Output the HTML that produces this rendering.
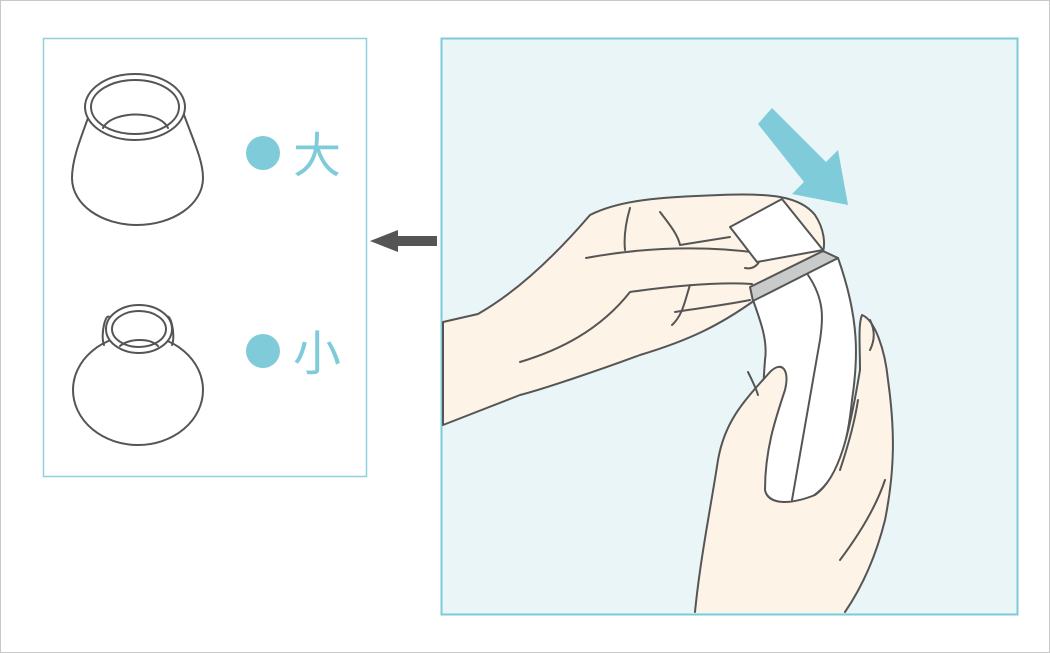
<!DOCTYPE html>
<html><head><meta charset="utf-8"><style>
html,body{margin:0;padding:0;background:#fff}
svg{display:block}
</style></head><body>
<svg width="1050" height="653" viewBox="0 0 1050 653" xmlns="http://www.w3.org/2000/svg">
<rect x="0.5" y="0.5" width="1049" height="652" fill="#fff" stroke="#c8c8c8"/>
<rect x="43.5" y="38.5" width="323" height="438" fill="#fff" stroke="#8fd0dc" stroke-width="1.5"/>
<rect x="441.5" y="38.5" width="576" height="576" fill="#e9f5f7" stroke="#7ccbd8" stroke-width="2"/>
<polygon points="437,236 398,236 398,230 370,241 398,252 398,246 437,246" fill="#555"/>
<polygon points="772,108 826,162 838,150 848,205 792,194 804,182 758,124" fill="#7fcbd9"/>
<g stroke="#555" stroke-width="2" stroke-linejoin="round" stroke-linecap="round">
<path d="M443,322 L478,314 C520,290 560,250 590,215 C620,200 660,197 720,195 C770,193 800,196 815,215 C825,230 825,245 823,252 L755,300 C720,325 690,340 640,355 C600,370 540,390 520,395 L443,425 Z" fill="#fdf3e7"/>
<path d="M630,208 C625,225 624,240 625,250 M660,212 C670,225 678,235 680,245 M680,245 L730,237 M586,258 C640,248 700,245 760,253 C762,262 755,270 745,268 M520,362 C560,350 600,330 630,292 C680,285 720,282 752,284 M690,285 C685,300 683,315 672,325 M675,312 C700,308 725,305 750,300" fill="none"/>
<polygon points="730,227 782,199 823,250 757,262" fill="#fff"/>
<path d="M753,300 C760,320 768,340 765,360 C762,400 760,450 764,490 C770,505 790,505 810,498 C840,480 848,440 852,400 C858,360 860,320 838,258 Z" fill="#fff"/>
<polygon points="750,287 823,251 838,258 753,301" fill="#c8cbca"/>
<path d="M808,275 C825,300 823,320 820,340 L792,500" fill="none"/>
<path d="M695,612 C700,560 712,500 718,460 C725,420 745,400 770,372 C782,360 790,370 785,390 C775,420 765,450 765,490 C768,505 790,505 815,495 C840,478 850,430 860,370 C860,345 858,325 862,315 C875,320 885,350 888,380 C895,430 895,470 885,520 C875,560 860,590 845,612" fill="#fdf3e7"/>
<path d="M748,372 C752,380 756,388 758,395 M870,320 C875,330 875,340 870,350 M840,470 C850,440 855,420 858,400 M840,560 C855,540 875,510 885,480" fill="none"/>
<path d="M88,118 C80,140 72,160 72,178 C72,205 102,225 137,225 C172,225 203,205 203,178 C203,160 193,140 183,112" fill="#fff"/>
<ellipse cx="135" cy="107" rx="50" ry="33" fill="#fff"/>
<ellipse cx="135" cy="107" rx="44" ry="27" fill="#fff"/>
<path d="M103,128 C112,110 160,110 168,128" fill="none"/>
<ellipse cx="138" cy="390" rx="65" ry="55" fill="#fff"/>
<path d="M104,345 C100,335 106,310 110,318 M172,345 C176,335 170,310 166,318" fill="none"/>
<ellipse cx="139" cy="329" rx="33" ry="24" fill="#fff"/>
<ellipse cx="139" cy="329" rx="27" ry="18" fill="#fff"/>
<path d="M120,346 C130,338 150,338 158,346" fill="none"/>
</g>
<circle cx="263" cy="153" r="17" fill="#7fcbd9"/>
<circle cx="263" cy="351" r="17" fill="#7fcbd9"/>
<text x="293" y="172" font-family="'Liberation Sans','Noto Sans CJK JP',sans-serif" font-size="48" fill="#7fcbd9">大</text>
<text x="293" y="370" font-family="'Liberation Sans','Noto Sans CJK JP',sans-serif" font-size="48" fill="#7fcbd9">小</text>
</svg>
</body></html>
